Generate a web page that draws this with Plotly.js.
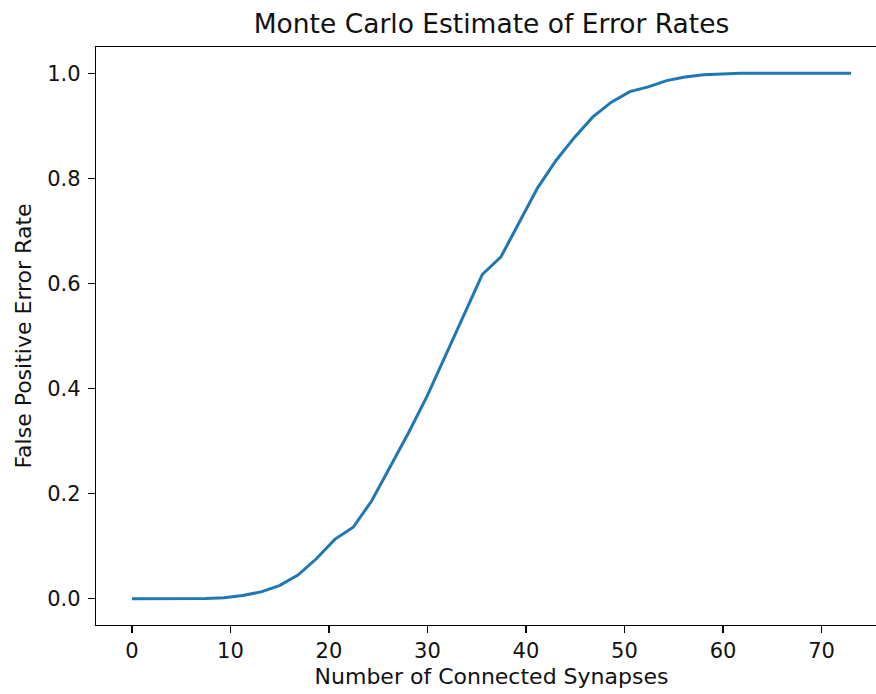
<!DOCTYPE html>
<html>
<head>
<meta charset="utf-8">
<script src="https://cdn.plot.ly/plotly-3.0.1.min.js"></script>
<style>
html, body { margin: 0; padding: 0; overflow: hidden; background: #fff; }
#chart { width: 900px; height: 694px; }
</style>
</head>
<body>
<div id="chart"></div>
<script>
// Number of connected synapses (40 evenly spaced samples from 0 to 73)
const synapses = [
  0.00, 1.87, 3.74, 5.62, 7.49, 9.36, 11.23, 13.10, 14.97, 16.85,
  18.72, 20.59, 22.46, 24.33, 26.21, 28.08, 29.95, 31.82, 33.69, 35.56,
  37.44, 39.31, 41.18, 43.05, 44.92, 46.79, 48.67, 50.54, 52.41, 54.28,
  56.15, 58.03, 59.90, 61.77, 63.64, 65.51, 67.38, 69.26, 71.13, 73.00
];
// Estimated false positive error rate
const errorRate = [
  0.000, 0.000, 0.000, 0.000, 0.0005, 0.002, 0.006, 0.013, 0.025, 0.045,
  0.076, 0.113, 0.136, 0.186, 0.252, 0.316, 0.385, 0.462, 0.540, 0.617,
  0.650, 0.715, 0.782, 0.834, 0.878, 0.917, 0.945, 0.965, 0.974, 0.986,
  0.993, 0.997, 0.999, 1.000, 1.000, 1.000, 1.000, 1.000, 1.000, 1.000
];
const xTicks = [0, 10, 20, 30, 40, 50, 60, 70];
const yTicks = [0.0, 0.2, 0.4, 0.6, 0.8, 1.0];
const yTickText = ["0.0", "0.2", "0.4", "0.6", "0.8", "1.0"];

const font = "DejaVu Sans, sans-serif";
const textColor = "#111";

const trace = {
  x: synapses,
  y: errorRate,
  type: "scatter",
  mode: "lines",
  line: { color: "#1f77b4", width: 3 },
  hoverinfo: "x+y"
};

const axisCommon = {
  showgrid: false,
  zeroline: false,
  showline: true,
  mirror: true,
  linecolor: "#000",
  linewidth: 1.2,
  ticks: "outside",
  ticklen: 7,
  tickwidth: 1.2,
  tickcolor: "#000",
  tickfont: { family: font, size: 21, color: textColor }
};

const layout = {
  width: 900,
  height: 694,
  margin: { l: 96, r: 12.5, t: 47, b: 69 },
  paper_bgcolor: "#fff",
  plot_bgcolor: "#fff",
  showlegend: false,
  font: { family: font, color: textColor },
  title: {
    text: "Monte Carlo Estimate of Error Rates",
    font: { family: font, size: 26.5, color: textColor },
    xref: "paper", x: 0.5, xanchor: "center",
    yref: "container", y: 1 - 24 / 694, yanchor: "middle"
  },
  xaxis: Object.assign({}, axisCommon, {
    range: [-3.65, 76.65],
    tickmode: "array",
    tickvals: xTicks,
    title: { text: "Number of Connected Synapses", font: { family: font, size: 22, color: textColor }, standoff: 6 }
  }),
  yaxis: Object.assign({}, axisCommon, {
    range: [-0.05, 1.05],
    tickmode: "array",
    tickvals: yTicks,
    ticktext: yTickText,
    ticklabelstandoff: 3,
    title: { text: "False Positive Error Rate", font: { family: font, size: 22, color: textColor }, standoff: 9 }
  })
};

Plotly.newPlot("chart", [trace], layout, { displayModeBar: false, staticPlot: true });
</script>
</body>
</html>
